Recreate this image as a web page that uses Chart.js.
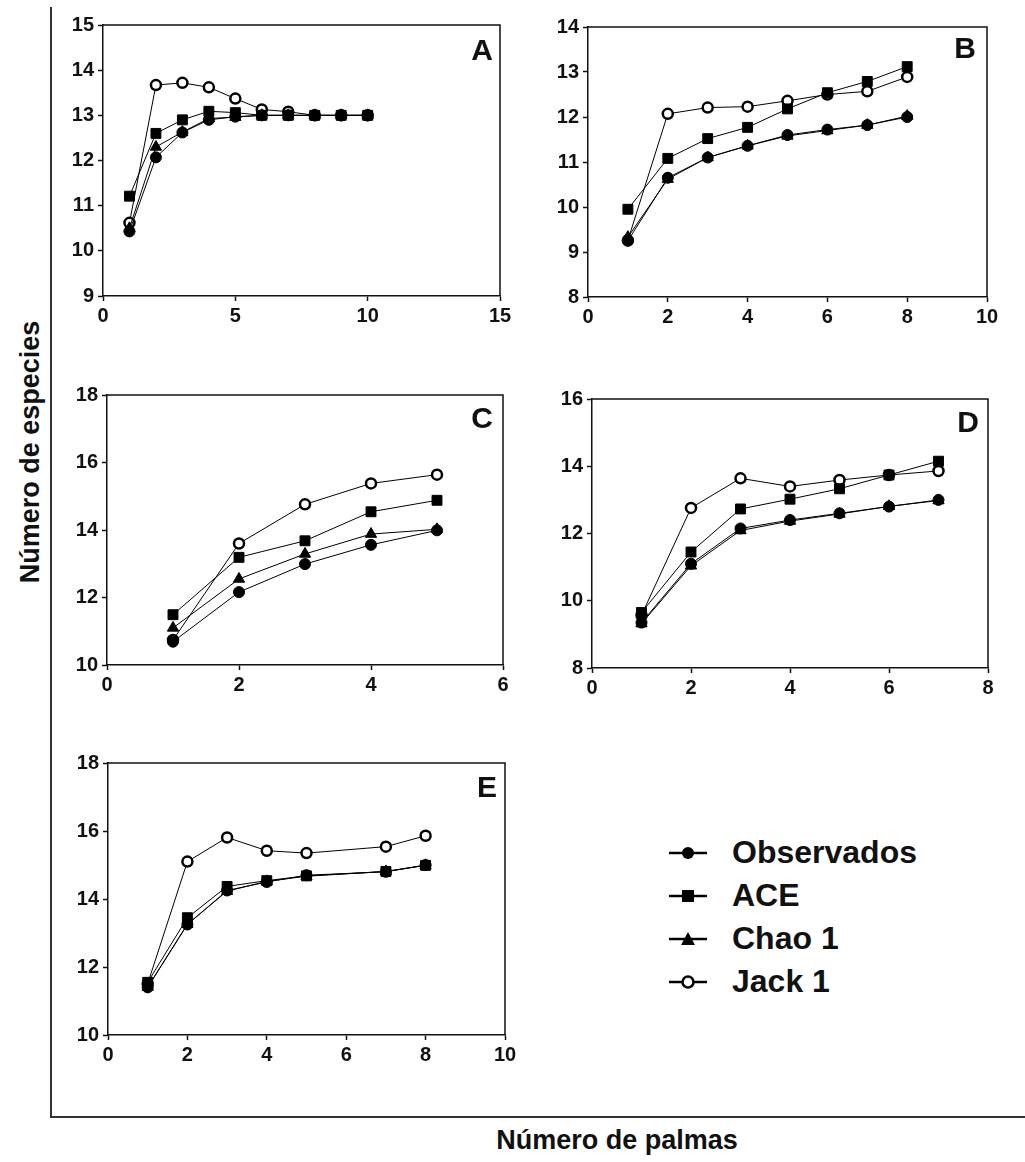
<!DOCTYPE html>
<html>
<head>
<meta charset="utf-8">
<script src="https://cdn.jsdelivr.net/npm/chart.js@4.4.1/dist/chart.umd.min.js"></script>
<style>
  body { margin: 0; background: #fff; font-family: "Liberation Sans", Arial, sans-serif; }
  #page { position: relative; width: 1025px; height: 1162px; overflow: hidden; }
  canvas { position: absolute; }
  .letter { position: absolute; font-weight: bold; font-size: 30px; color: #111; transform: translate(-50%, -50%); }
  .title { position: absolute; font-weight: bold; font-size: 27px; color: #111; white-space: nowrap; }
  .legend { position: absolute; left: 668px; top: 831px; }
  .legend div { height: 43px; display: flex; align-items: center; font-weight: bold; font-size: 32px; color: #111; }
  .legend svg { margin-right: 24px; }
</style>
</head>
<body>
<div id="page">
  <div style="position:absolute;left:50px;top:7px;width:2px;height:1111px;background:#333"></div>
  <div style="position:absolute;left:50px;top:1116px;width:975px;height:2px;background:#333"></div>
  <div class="title" style="left:30px;top:452px;transform:translate(-50%,-50%) rotate(-90deg)">Número de especies</div>
  <div class="title" style="left:617px;top:1140px;transform:translate(-50%,-50%)">Número de palmas</div>

  <canvas id="chartA" width="467" height="323" style="left:53px;top:9px"></canvas>
  <canvas id="chartB" width="469" height="322" style="left:538px;top:11px"></canvas>
  <canvas id="chartC" width="466" height="322" style="left:57px;top:379px"></canvas>
  <canvas id="chartD" width="466" height="321" style="left:542px;top:383px"></canvas>
  <canvas id="chartE" width="467" height="324" style="left:58px;top:747px"></canvas>

  <div class="letter" style="left:482px;top:50px">A</div>
  <div class="letter" style="left:965px;top:48px">B</div>
  <div class="letter" style="left:482px;top:418px">C</div>
  <div class="letter" style="left:968px;top:422px">D</div>
  <div class="letter" style="left:487px;top:787px">E</div>

  <div class="legend">
    <div><svg width="40" height="16"><line x1="1" y1="8" x2="39" y2="8" stroke="#000" stroke-width="2.5"/><circle cx="20" cy="8" r="6" fill="#000"/></svg>Observados</div>
    <div><svg width="40" height="16"><line x1="1" y1="8" x2="39" y2="8" stroke="#000" stroke-width="2.5"/><rect x="14" y="2" width="12" height="12" fill="#000"/></svg>ACE</div>
    <div><svg width="40" height="16"><line x1="1" y1="8" x2="39" y2="8" stroke="#000" stroke-width="2.5"/><polygon points="20,1 27,14 13,14" fill="#000"/></svg>Chao 1</div>
    <div><svg width="40" height="16"><line x1="1" y1="8" x2="39" y2="8" stroke="#000" stroke-width="2.5"/><circle cx="20" cy="8" r="5.5" fill="#fff" stroke="#000" stroke-width="2.5"/></svg>Jack 1</div>
  </div>
</div>

<script>
// x = número de palmas
const palmasA = [1, 2, 3, 4, 5, 6, 7, 8, 9, 10];
const observadosA = [10.43, 12.07, 12.62, 12.9, 12.97, 13, 13, 13, 13, 13];
const aceA = [11.21, 12.6, 12.9, 13.09, 13.06, 13, 13, 13, 13, 13];
const chaoA = [10.5, 12.3, 12.63, 12.93, 12.96, 13, 13, 13, 13, 13];
const jackA = [10.62, 13.67, 13.72, 13.62, 13.37, 13.13, 13.08, 13, 13, 13];

const palmasB = [1, 2, 3, 4, 5, 6, 7, 8];
const observadosB = [9.25, 10.65, 11.1, 11.36, 11.6, 11.72, 11.82, 12.0];
const aceB = [9.95, 11.08, 11.52, 11.77, 12.18, 12.54, 12.79, 13.12];
const chaoB = [9.33, 10.62, 11.1, 11.36, 11.58, 11.7, 11.82, 12.02];
const jackB = [9.26, 12.07, 12.21, 12.23, 12.36, 12.5, 12.57, 12.89];

const palmasC = [1, 2, 3, 4, 5];
const observadosC = [10.69, 12.16, 12.99, 13.56, 13.99];
const aceC = [11.49, 13.19, 13.68, 14.54, 14.88];
const chaoC = [11.1, 12.55, 13.29, 13.88, 14.02];
const jackC = [10.74, 13.6, 14.76, 15.38, 15.64];

const palmasD = [1, 2, 3, 4, 5, 6, 7];
const observadosD = [9.35, 11.1, 12.15, 12.4, 12.6, 12.8, 13.0];
const aceD = [9.65, 11.45, 12.73, 13.02, 13.33, 13.74, 14.15];
const chaoD = [9.32, 11.04, 12.09, 12.37, 12.58, 12.81, 12.98];
const jackD = [9.57, 12.76, 13.64, 13.4, 13.59, 13.74, 13.86];

const palmasE = [1, 2, 3, 4, 5, 7, 8];
const observadosE = [11.4, 13.25, 14.25, 14.5, 14.7, 14.8, 15.0];
const aceE = [11.55, 13.45, 14.37, 14.54, 14.68, 14.81, 14.99];
const chaoE = [11.41, 13.26, 14.23, 14.52, 14.67, 14.81, 14.99];
const jackE = [11.51, 15.1, 15.81, 15.42, 15.35, 15.54, 15.86];

// draws top and right edges of the box
const frame = {
  id: "frame",
  afterDatasetsDraw(chart) {
    const a = chart.chartArea;
    const ctx = chart.ctx;
    ctx.save();
    ctx.strokeStyle = "#111";
    ctx.lineWidth = 1.5;
    ctx.beginPath();
    ctx.moveTo(a.left, a.top);
    ctx.lineTo(a.right, a.top);
    ctx.lineTo(a.right, a.bottom);
    ctx.stroke();
    ctx.restore();
  },
};

function pts(xs, ys) {
  return xs.map((x, i) => ({ x: x, y: ys[i] }));
}

function series(label, data, style, radius, fill, bw, order) {
  return {
    label: label,
    data: data,
    borderColor: "#000",
    borderWidth: 1,
    pointStyle: style,
    pointRadius: radius,
    pointBackgroundColor: fill,
    pointBorderColor: "#000",
    pointBorderWidth: bw,
    tension: 0,
    order: order,
  };
}

function makePanel(id, xs, obs, ace, chao, jack, yMin, yMax, yStep, xMax, xStep) {
  const tickFont = { family: "'Liberation Sans', Arial, sans-serif", size: 20, weight: "bold" };
  new Chart(document.getElementById(id), {
    type: "line",
    data: {
      datasets: [
        series("Observados", pts(xs, obs), "circle", 5.5, "#000", 1, 1),
        series("ACE", pts(xs, ace), "rect", 7, "#000", 1, 3),
        series("Chao 1", pts(xs, chao), "triangle", 6.5, "#000", 1, 2),
        series("Jack 1", pts(xs, jack), "circle", 5, "#fff", 2.5, 4),
      ],
    },
    options: {
      responsive: false,
      animation: false,
      devicePixelRatio: 1,
      layout: { padding: { left: 0, top: 14, right: 20, bottom: 0 } },
      plugins: { legend: { display: false }, tooltip: { enabled: false } },
      scales: {
        x: {
          type: "linear",
          min: 0,
          max: xMax,
          afterFit(scale) { scale.height = 36; },
          ticks: { stepSize: xStep, color: "#111", font: tickFont, padding: 3, maxRotation: 0 },
          grid: { drawOnChartArea: false, drawTicks: true, tickLength: 5, tickWidth: 1.5, color: "#111" },
          border: { display: true, color: "#111", width: 1.5 },
        },
        y: {
          type: "linear",
          min: yMin,
          max: yMax,
          afterFit(scale) { scale.width = 50; },
          ticks: { stepSize: yStep, color: "#111", font: tickFont, padding: 4 },
          grid: { drawOnChartArea: false, drawTicks: true, tickLength: 5, tickWidth: 1.5, color: "#111" },
          border: { display: true, color: "#111", width: 1.5 },
        },
      },
    },
    plugins: [frame],
  });
}

makePanel("chartA", palmasA, observadosA, aceA, chaoA, jackA, 9, 15, 1, 15, 5);
makePanel("chartB", palmasB, observadosB, aceB, chaoB, jackB, 8, 14, 1, 10, 2);
makePanel("chartC", palmasC, observadosC, aceC, chaoC, jackC, 10, 18, 2, 6, 2);
makePanel("chartD", palmasD, observadosD, aceD, chaoD, jackD, 8, 16, 2, 8, 2);
makePanel("chartE", palmasE, observadosE, aceE, chaoE, jackE, 10, 18, 2, 10, 2);
</script>
</body>
</html>
